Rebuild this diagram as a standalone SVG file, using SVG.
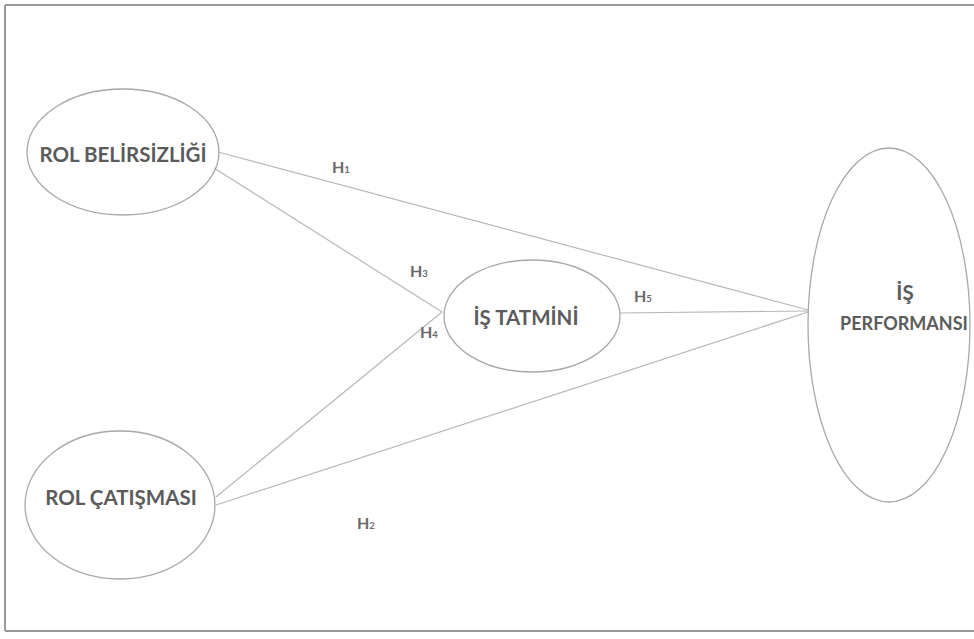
<svg xmlns="http://www.w3.org/2000/svg" width="974" height="639" viewBox="0 0 974 639">
<style>
.node ellipse{fill:none;stroke:#a8a8a8;stroke-width:1.3}
.lbl{font-family:Lato,"Open Sans","Liberation Sans",sans-serif;font-weight:bold;fill:#5b5b5b;font-size:20.5px;text-anchor:middle}
.h{font-family:Lato,"Open Sans","Liberation Sans",sans-serif;font-weight:bold;fill:#6a6a6a;font-size:16px}
.h tspan{font-size:9.5px}
#connectors line{stroke:#b8b8b8;stroke-width:1.2}
</style>
<rect width="974" height="639" fill="#ffffff"/>
<g id="frame" stroke="#9a9a9a" stroke-width="2" fill="none">
<line x1="5" y1="5" x2="974" y2="5"/>
<line x1="5" y1="5" x2="5" y2="631"/>
<line x1="5" y1="631" x2="974" y2="631"/>
</g>
<g id="connectors">
<line x1="218" y1="152" x2="808" y2="310"/>
<line x1="214" y1="168" x2="442" y2="312"/>
<line x1="216" y1="497" x2="442" y2="312"/>
<line x1="216" y1="505" x2="808" y2="312"/>
<line x1="620" y1="313" x2="808" y2="311"/>
</g>
<g id="labels-h">
<text class="h" x="332" y="173">H<tspan>1</tspan></text>
<text class="h" x="410" y="277">H<tspan>3</tspan></text>
<text class="h" x="420" y="338">H<tspan>4</tspan></text>
<text class="h" x="634" y="302">H<tspan>5</tspan></text>
<text class="h" x="357" y="529">H<tspan>2</tspan></text>
</g>
<g id="rol-belirsizligi" class="node">
<ellipse cx="123" cy="152" rx="96" ry="63"/>
<text class="lbl" x="123" y="162">ROL BELİRSİZLİĞİ</text>
</g>
<g id="rol-catismasi" class="node">
<ellipse cx="120" cy="505" rx="95" ry="74"/>
<text class="lbl" x="121" y="505">ROL ÇATIŞMASI</text>
</g>
<g id="is-tatmini" class="node">
<ellipse cx="532" cy="316" rx="88" ry="56"/>
<text class="lbl" x="526" y="325">İŞ TATMİNİ</text>
</g>
<g id="is-performansi" class="node">
<ellipse cx="889" cy="325" rx="81" ry="177"/>
<text class="lbl" x="905" y="300">İŞ</text>
<text class="lbl" x="904" y="330" style="font-size:18px">PERFORMANSI</text>
</g>
</svg>
